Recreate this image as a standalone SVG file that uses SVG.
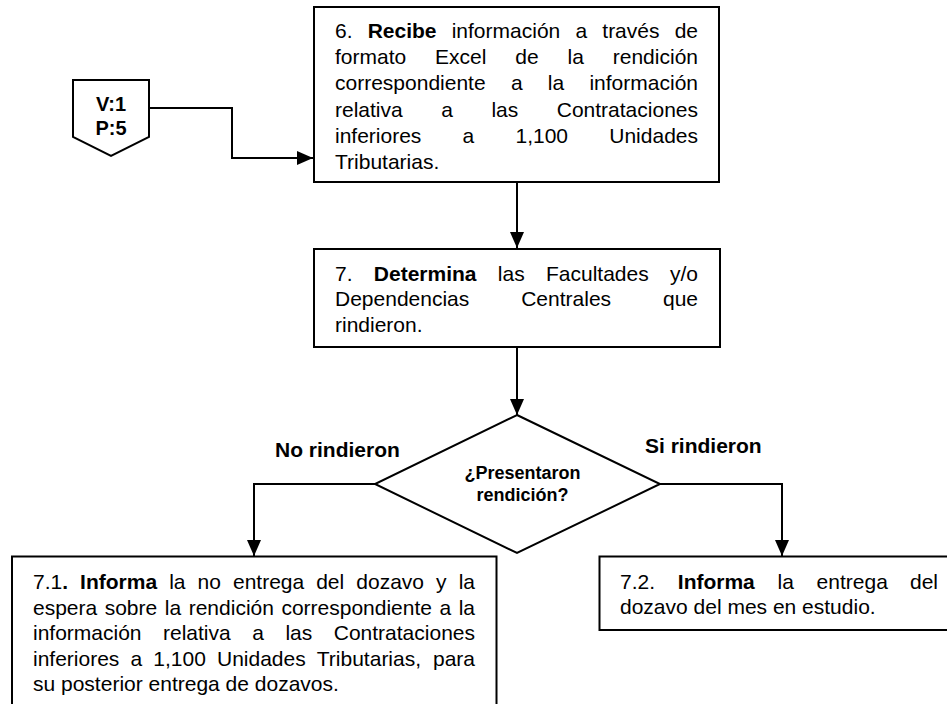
<svg xmlns="http://www.w3.org/2000/svg" width="947" height="704" viewBox="0 0 947 704">
<defs>
<style>
text{font-family:"Liberation Sans",Arial,sans-serif;fill:#000}
.t{font-size:21px}
.b{font-weight:bold}
.lab{font-size:21px;font-weight:bold}
.dec{font-size:18px;font-weight:bold}
.box{fill:#fff;stroke:#000;stroke-width:2}
.con{fill:none;stroke:#000;stroke-width:2}
</style>
<marker id="arr" markerUnits="userSpaceOnUse" markerWidth="16" markerHeight="14" refX="16" refY="7" orient="auto">
<path d="M0,0 L16,7 L0,14 z" fill="#000"/>
</marker>
</defs>
<rect width="947" height="704" fill="#fff"/>

<g id="connectors">
<polyline class="con" points="149,108 232,108 232,158 313,158" marker-end="url(#arr)"/>
<line class="con" x1="517" y1="182" x2="517" y2="248" marker-end="url(#arr)"/>
<line class="con" x1="517" y1="347" x2="517" y2="415" marker-end="url(#arr)"/>
<polyline class="con" points="375,484 254,484 254,556" marker-end="url(#arr)"/>
<polyline class="con" points="660,484 782,484 782,556" marker-end="url(#arr)"/>
</g>

<g id="offpage">
<polygon class="box" points="73,80 149,80 149,137 111,156 73,137"/>
<text class="lab" font-size="20" x="111" y="111" text-anchor="middle" style="font-size:20px">V:1</text>
<text class="lab" x="111" y="135" text-anchor="middle" style="font-size:20px">P:5</text>
</g>

<g id="n6">
<rect class="box" x="314" y="7" width="405" height="175"/>
<text class="t" y="38"><tspan x="335">6.</tspan><tspan x="367.7" class="b">Recibe</tspan><tspan x="451.7">información</tspan><tspan x="575.4">a</tspan><tspan x="602.3">través</tspan><tspan x="698" text-anchor="end">de</tspan></text>
<text class="t" y="64.2"><tspan x="335">formato</tspan><tspan x="435.1">Excel</tspan><tspan x="515.3">de</tspan><tspan x="567.6">la</tspan><tspan x="698" text-anchor="end">rendición</tspan></text>
<text class="t" y="90.4"><tspan x="335">correspondiente</tspan><tspan x="510.9">a</tspan><tspan x="547.8">la</tspan><tspan x="698" text-anchor="end">información</tspan></text>
<text class="t" y="116.6"><tspan x="335">relativa</tspan><tspan x="441.2">a</tspan><tspan x="491.4">las</tspan><tspan x="698" text-anchor="end">Contrataciones</tspan></text>
<text class="t" y="142.8"><tspan x="335">inferiores</tspan><tspan x="462.6">a</tspan><tspan x="515.5">1,100</tspan><tspan x="698" text-anchor="end">Unidades</tspan></text>
<text class="t" x="335" y="169">Tributarias.</text>
</g>

<g id="n7">
<rect class="box" x="314" y="249" width="406" height="98"/>
<text class="t" y="280.5"><tspan x="335">7.</tspan><tspan x="373.8" class="b">Determina</tspan><tspan x="497.8">las</tspan><tspan x="546">Facultades</tspan><tspan x="698" text-anchor="end">y/o</tspan></text>
<text class="t" y="306"><tspan x="335">Dependencias</tspan><tspan x="521.2">Centrales</tspan><tspan x="698" text-anchor="end">que</tspan></text>
<text class="t" x="335" y="331.5">rindieron.</text>
</g>

<g id="decision">
<polygon class="box" points="517,415 660,484 517,553 375,484"/>
<text class="dec" x="522.5" y="478.5" text-anchor="middle">¿Presentaron</text>
<text class="dec" x="522.5" y="500.5" text-anchor="middle">rendición?</text>
</g>

<g id="labels">
<text class="lab" x="275" y="456.5">No rindieron</text>
<text class="lab" x="645" y="453">Si rindieron</text>
</g>

<g id="n71">
<rect class="box" x="12" y="556.5" width="484.5" height="170"/>
<text class="t" y="589"><tspan x="33">7.1</tspan><tspan class="b">.</tspan><tspan x="80.1" class="b">Informa</tspan><tspan x="169.2">la</tspan><tspan x="197.6">no</tspan><tspan x="233">entrega</tspan><tspan x="316.2">del</tspan><tspan x="356.3">dozavo</tspan><tspan x="436.1">y</tspan><tspan x="475" text-anchor="end">la</tspan></text>
<text class="t" y="614.5"><tspan x="33">espera</tspan><tspan x="104.7">sobre</tspan><tspan x="164.8">la</tspan><tspan x="188.7">rendición</tspan><tspan x="281.4">correspondiente</tspan><tspan x="439.5">a</tspan><tspan x="475" text-anchor="end">la</tspan></text>
<text class="t" y="640"><tspan x="33">información</tspan><tspan x="163">relativa</tspan><tspan x="252.2">a</tspan><tspan x="285.4">las</tspan><tspan x="475" text-anchor="end">Contrataciones</tspan></text>
<text class="t" y="665.5"><tspan x="33">inferiores</tspan><tspan x="130.5">a</tspan><tspan x="153.3">1,100</tspan><tspan x="217">Unidades</tspan><tspan x="316.8">Tributarias,</tspan><tspan x="475" text-anchor="end">para</tspan></text>
<text class="t" x="33" y="691">su posterior entrega de dozavos.</text>
</g>

<g id="n72">
<rect class="box" x="599.5" y="556.5" width="380" height="73.5"/>
<text class="t" y="588.5"><tspan x="620">7.2.</tspan><tspan x="677.8" class="b">Informa</tspan><tspan x="777.5">la</tspan><tspan x="816.6">entrega</tspan><tspan x="938" text-anchor="end">del</tspan></text>
<text class="t" x="620" y="613.5">dozavo del mes en estudio.</text>
</g>
</svg>
